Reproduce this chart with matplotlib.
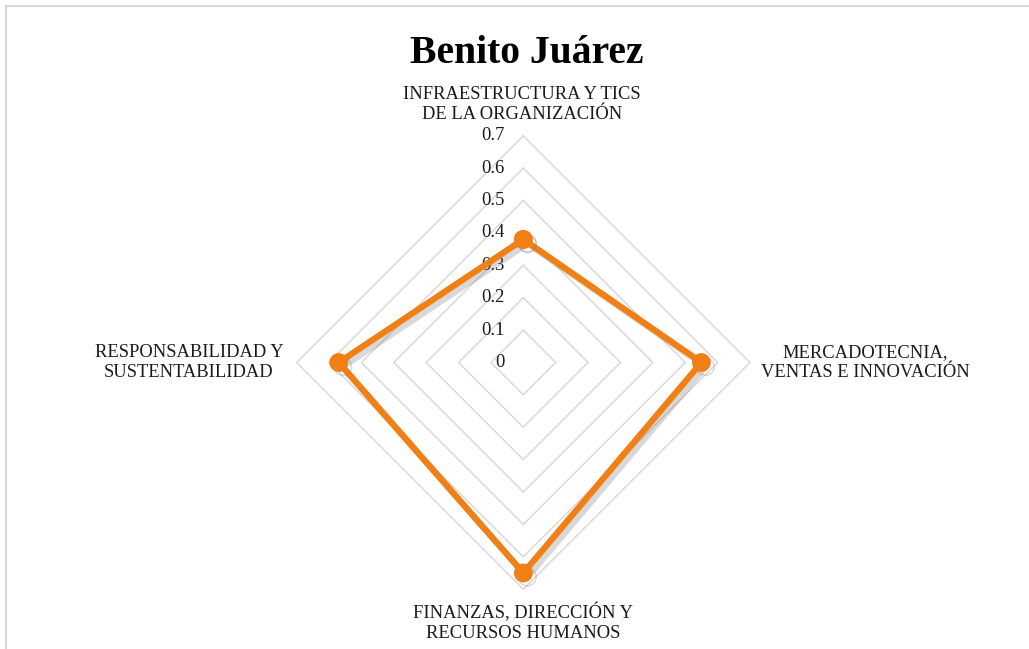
import numpy as np
import matplotlib
matplotlib.use("Agg")
import matplotlib.pyplot as plt
import matplotlib.patheffects as pe
from matplotlib.transforms import offset_copy
from matplotlib.patches import Rectangle

title = "Benito Juárez"
categories = ["INFRAESTRUCTURA Y TICS\nDE LA ORGANIZACIÓN",
              "MERCADOTECNIA,\nVENTAS E INNOVACIÓN",
              "FINANZAS, DIRECCIÓN Y\nRECURSOS HUMANOS",
              "RESPONSABILIDAD Y\nSUSTENTABILIDAD"]
values = [0.38, 0.55, 0.65, 0.57]
ring_values = [0.1, 0.2, 0.3, 0.4, 0.5, 0.6, 0.7]
tick_values = [0, 0.1, 0.2, 0.3, 0.4, 0.5, 0.6, 0.7]
tick_labels = ["0", "0.1", "0.2", "0.3", "0.4", "0.5", "0.6", "0.7"]

W, H, DPI = 1029, 649, 100
fig = plt.figure(figsize=(W / DPI, H / DPI), dpi=DPI)
fig.patch.set_facecolor("white")

serif = ["Liberation Serif", "DejaVu Serif"]
orange = "#F07F14"
grid_col = "#D9D9D9"

# outer border (chart area frame)
fig.add_artist(Rectangle((6 / W, -0.1), 1.2, 1 - 6 / H + 0.1, transform=fig.transFigure,
                         fill=False, edgecolor="#D9D9D9", lw=1.5))

cx, cy, R = 523.3, H - 362.5, 226.7
ax = fig.add_axes([(cx - R) / W, (cy - R) / H, 2 * R / W, 2 * R / H], projection="polar")
ax.set_theta_zero_location("N")
ax.set_theta_direction(-1)
ax.set_ylim(0, 0.7)
ax.grid(False)
ax.set_xticks([])
ax.set_yticks([])
ax.spines["polar"].set_visible(False)
ax.patch.set_alpha(0)

n = len(categories)
angles = np.arange(n) * 2 * np.pi / n
closed_angles = np.append(angles, angles[0])

for r in ring_values:
    ax.plot(closed_angles, [r] * (n + 1), color=grid_col, lw=1.1, zorder=1, clip_on=False)

tr = offset_copy(ax.transData, fig=fig, x=-19, y=0, units="dots")
for v, lab in zip(tick_values, tick_labels):
    ax.text(0, v, lab, transform=tr, ha="right", va="center", fontsize=13.3,
            family=serif, color="#1a1a1a", zorder=2)

vals_closed = np.append(values, values[0])
ax.plot(closed_angles, vals_closed, color=orange, lw=4.5, marker="o", markersize=12.5,
        markerfacecolor=orange, markeredgecolor=orange, zorder=5, clip_on=False,
        solid_joinstyle="round",
        path_effects=[pe.SimpleLineShadow(offset=(3, -3), shadow_color="#7f7f7f", alpha=0.3),
                      pe.Normal()])

# category labels
ls = 1.2
fig.text(522 / W, 1 - 104.5 / H, categories[0], ha="center", va="center", fontsize=13.3,
         family=serif, linespacing=ls, color="#1a1a1a")
fig.text(865 / W, 1 - 362.5 / H, categories[1], ha="center", va="center", fontsize=13.3,
         family=serif, linespacing=ls, color="#1a1a1a")
fig.text(523 / W, 1 - 622.3 / H, categories[2], ha="center", va="center", fontsize=13.3,
         family=serif, linespacing=ls, color="#1a1a1a")
fig.text(189 / W, 1 - 362.3 / H, categories[3], ha="center", va="center", fontsize=13.3,
         family=serif, linespacing=ls, color="#1a1a1a")

fig.text(527 / W, 1 - 63 / H, title, ha="center", va="baseline", fontsize=28.5,
         family=serif, fontweight="bold", color="black")

fig.savefig("out.png", dpi=DPI)
